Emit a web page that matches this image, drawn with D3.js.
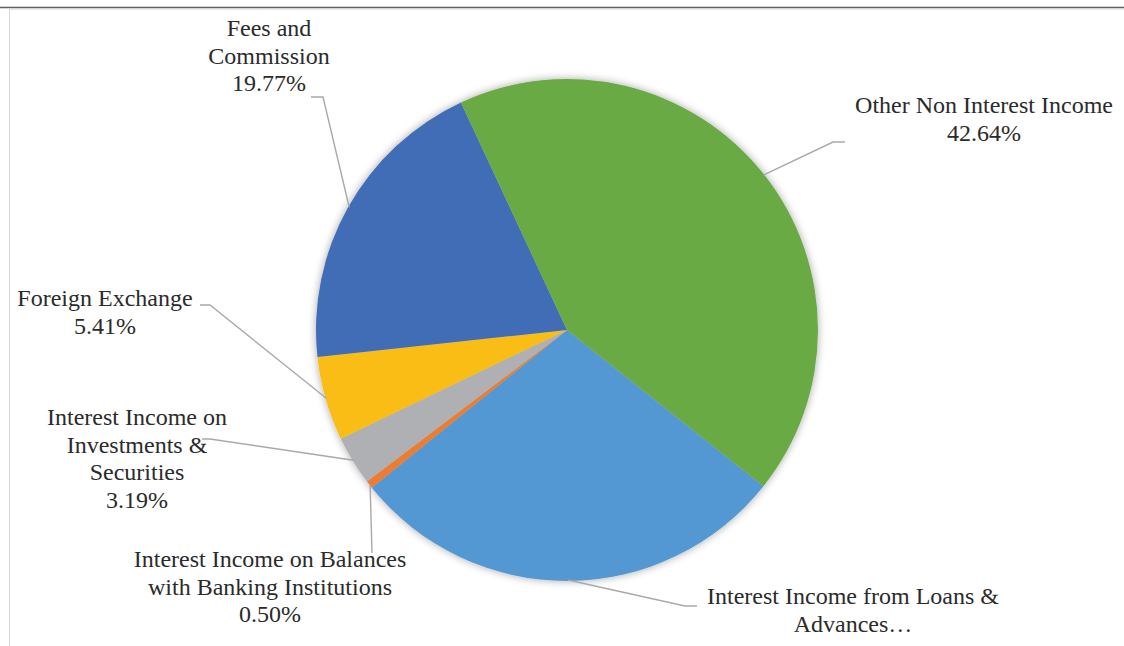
<!DOCTYPE html>
<html>
<head>
<meta charset="utf-8">
<script src="https://cdn.jsdelivr.net/npm/d3@7"></script>
<style>
  body { margin: 0; background: #fff; }
  svg { display: block; }
</style>
</head>
<body>
<div id="chart"></div>
<script>
// slice data, in the order the chart draws them (clockwise)
const categories = [
    "Interest Income from Loans & Advances",
    "Interest Income on Balances with Banking Institutions",
    "Interest Income on Investments & Securities",
    "Foreign Exchange",
    "Fees and Commission",
    "Other Non Interest Income"
];
const shares = [28.49, 0.50, 3.19, 5.41, 19.77, 42.64];
const labelLines = [
    ["Interest Income from Loans &", "Advances…"],
    ["Interest Income on Balances", "with Banking Institutions", "0.50%"],
    ["Interest Income on", "Investments &", "Securities", "3.19%"],
    ["Foreign Exchange", "5.41%"],
    ["Fees and", "Commission", "19.77%"],
    ["Other Non Interest Income", "42.64%"]
];
const colors = ["#5398D3", "#EC7C30", "#AFB0B3", "#F9BD17", "#3F6DB5", "#6AAA45"];

// where excel put the labels: text centre + first baseline, and the leader elbow
const labelPos = [[853, 604], [270, 567], [137, 425], [105, 306], [269, 36], [984, 113]];
const elbows = [
    [[697, 606], [685, 606]],
    [[372, 553]],
    [[202, 439], [210, 439]],
    [[200, 305], [210, 305]],
    [[311, 97], [323, 97]],
    [[845, 142], [833, 142]]
];

const width = 1124, height = 646;
const cx = 567, cy = 330, radius = 251;
const lineH = 27.5;

const svg = d3.select("#chart").append("svg")
    .attr("width", width)
    .attr("height", height);

// soft halo round the pie
const defs = svg.append("defs");
const f = defs.append("filter").attr("id", "halo")
    .attr("x", "-20%").attr("y", "-20%").attr("width", "140%").attr("height", "140%");
f.append("feGaussianBlur").attr("in", "SourceAlpha").attr("stdDeviation", 4).attr("result", "b");
f.append("feComponentTransfer").attr("in", "b").attr("result", "s")
    .append("feFuncA").attr("type", "linear").attr("slope", 0.35);
const m = f.append("feMerge");
m.append("feMergeNode").attr("in", "s");
m.append("feMergeNode").attr("in", "SourceGraphic");

// frame lines
svg.append("line").attr("x1", 0).attr("x2", width).attr("y1", 7.5).attr("y2", 7.5)
    .attr("stroke", "#5f5f5f").attr("stroke-width", 1.5);
svg.append("line").attr("x1", 9).attr("x2", width).attr("y1", 9.5).attr("y2", 9.5)
    .attr("stroke", "#e6e6e6").attr("stroke-width", 1);
svg.append("line").attr("x1", 9.5).attr("x2", 9.5).attr("y1", 9).attr("y2", height)
    .attr("stroke", "#d6d6d6").attr("stroke-width", 1);

const startAngle = 128.5 * Math.PI / 180;
const pie = d3.pie()
    .sort(null)
    .value(d => d)
    .startAngle(startAngle)
    .endAngle(startAngle + 2 * Math.PI);
const arcs = pie(shares);

const arc = d3.arc().innerRadius(0).outerRadius(radius);
const edgeArc = d3.arc().innerRadius(radius - 1).outerRadius(radius - 1);

const g = svg.append("g").attr("transform", `translate(${cx},${cy})`);

g.append("g")
    .attr("filter", "url(#halo)")
    .selectAll("path")
    .data(arcs)
    .join("path")
    .attr("d", arc)
    .attr("fill", (d, i) => colors[i]);

// leader lines
svg.append("g")
    .selectAll("polyline")
    .data(arcs)
    .join("polyline")
    .attr("fill", "none")
    .attr("stroke", "#a9a9a9")
    .attr("stroke-width", 1.4)
    .attr("points", (d, i) => {
        const c = edgeArc.centroid(d);
        const pts = elbows[i].concat([[cx + c[0], cy + c[1]]]);
        return pts.map(p => p.join(",")).join(" ");
    });

// labels
const labels = svg.append("g")
    .selectAll("text")
    .data(categories)
    .join("text")
    .style("font-family", '"Liberation Serif"')
    .attr("font-size", 24)
    .attr("fill", "#2b2b2b")
    .attr("text-anchor", "middle")
    .attr("x", (d, i) => labelPos[i][0])
    .attr("y", (d, i) => labelPos[i][1]);

labels.selectAll("tspan")
    .data((d, i) => labelLines[i].map(t => ({ t, x: labelPos[i][0] })))
    .join("tspan")
    .attr("x", d => d.x)
    .attr("dy", (d, j) => j === 0 ? 0 : lineH)
    .text(d => d.t);
</script>
</body>
</html>
